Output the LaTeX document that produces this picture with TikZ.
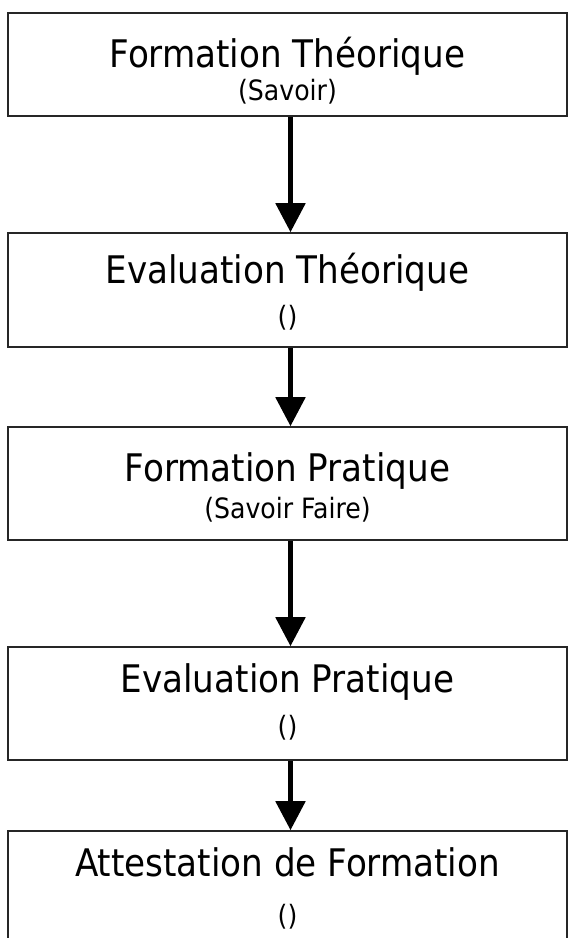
\documentclass[tikz,border=0pt]{standalone}
\usepackage{fontspec}
\setmainfont{DejaVu Sans Condensed}
\usetikzlibrary{arrows.meta}

\tikzset{
    stage/.style={draw=black!85, line width=1.5pt, minimum width=559pt, inner sep=0pt},
    title/.style={font=\fontsize{38}{44}\selectfont, anchor=base, inner sep=0pt},
    sub/.style={font=\fontsize{28}{33}\selectfont, anchor=base, inner sep=0pt},
    flow/.style={line width=5pt, -{Triangle[length=29pt 0 0, width=29pt 0 0]}}
}

\begin{document}
\begin{tikzpicture}[x=1pt,y=1pt]

    % Page frame
    \clip (0,0) rectangle (569,938);

    % Stages: box, title and note under it
    \foreach \n/\yc/\h/\ty/\sy/\title/\sub in {
        1/873.5/103/55/88/{Formation Théorique}/{(Savoir)},
        2/648/114/51/94/{Evaluation Théorique}/{()},
        3/454.5/113/55/92/{Formation Pratique}/{(Savoir Faire)},
        4/234.5/113/46/90/{Evaluation Pratique}/{()},
        5/50/114/46/95/{Attestation de Formation}/{()}
    }
    {
        \node[stage, minimum height=\h pt] (b\n) at (287.5,\yc) {};
        \node[title] (t\n) at ([yshift=-\ty pt]b\n.north) {\title};
        \node[sub] (s\n) at ([yshift=-\sy pt]b\n.north) {\sub};
    }

    % Arrows between stages
    \foreach \a/\b in {1/2, 2/3, 3/4, 4/5}
        \draw[flow] ([xshift=3pt]b\a.south) -- ([xshift=3pt]b\b.north);

\end{tikzpicture}
\end{document}
